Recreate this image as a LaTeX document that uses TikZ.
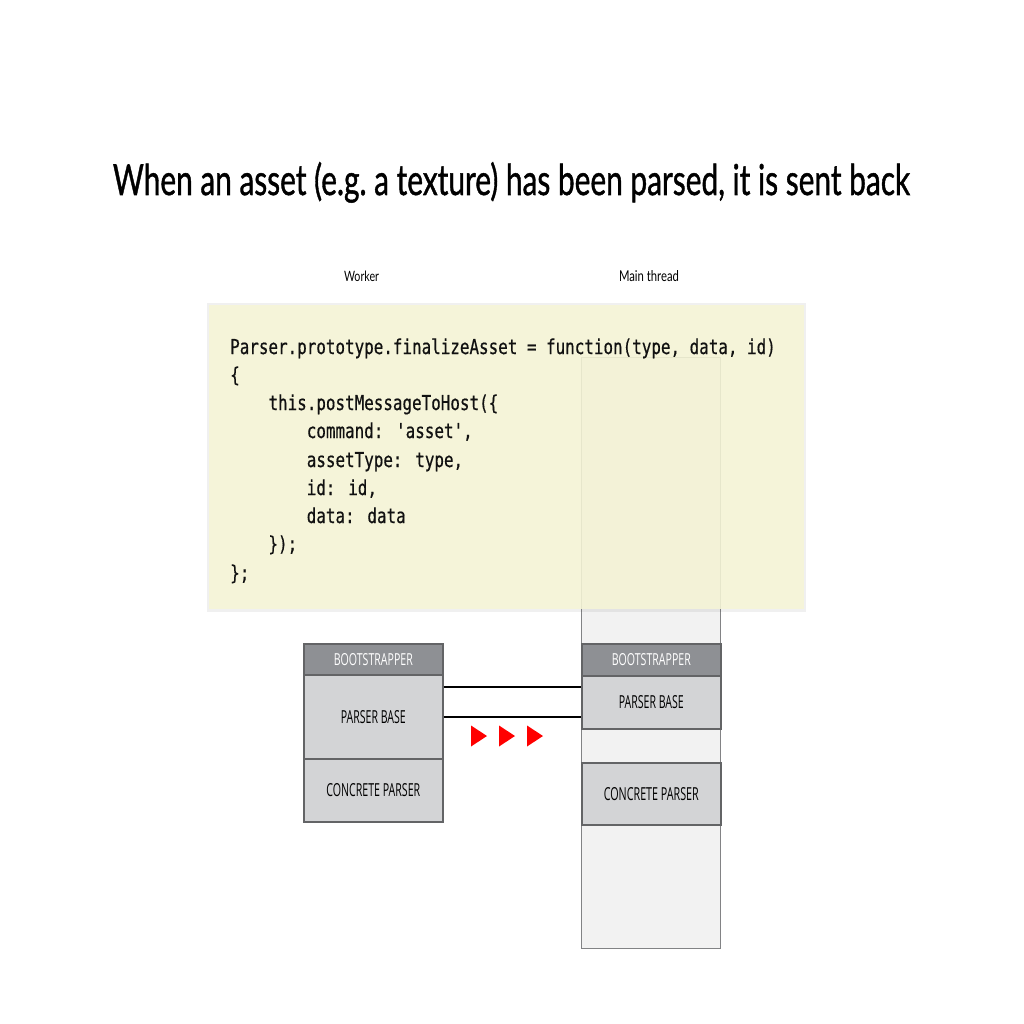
\documentclass[tikz,border=0pt]{standalone}
\usepackage{fontspec}
\usepackage{graphicx}
\setmainfont{Lato}
\newfontfamily\titlefont[FakeBold=1.2]{Lato}
\newfontfamily\labelfont{Open Sans}
\newfontfamily\codefont[FakeBold=0.6]{DejaVu Sans Mono}
\definecolor{codebg}{HTML}{F6F5D6}
\definecolor{colbg}{HTML}{F2F2F2}
\definecolor{boxline}{HTML}{636466}
\definecolor{bootfill}{HTML}{8E9094}
\definecolor{basefill}{HTML}{D3D4D6}
\definecolor{codetext}{HTML}{111111}
\tikzset{
  layer/.style={draw=boxline, line width=1.6pt, inner sep=0pt, anchor=north west},
  bootbox/.style={layer, fill=bootfill},
  basebox/.style={layer, fill=basefill},
  column/.style={draw=boxline!80, line width=1.3pt, fill=colbg, inner sep=0pt, anchor=north west},
  lbl/.style={inner sep=0pt, font=\labelfont},
  codeline/.style={inner sep=0pt, anchor=base west, text=codetext, font=\codefont\fontsize{15.9pt}{18pt}\selectfont},
  link/.style={line width=2.4pt, black},
}
\newcommand{\cl}[1]{\scalebox{1}[1.29]{#1}}
\begin{document}
\begin{tikzpicture}[x=1pt,y=-1pt]
\useasboundingbox (0,0) rectangle (1024,1024);
\fill[white] (0,0) rectangle (1024,1024);

% title
\node[anchor=base, inner sep=0pt, font=\titlefont] (title) at (511.5,195) {\frenchspacing\resizebox{797pt}{33pt}{When an asset (e.g.\ a texture) has been parsed, it is sent back}};
\node[anchor=base, inner sep=0pt] (worker) at (361.5,281) {\resizebox{35pt}{10.5pt}{Worker}};
\node[anchor=base, inner sep=0pt] (mainthread) at (649,281) {\resizebox{60pt}{11pt}{Main thread}};

% main thread column
\node[column, minimum width=139pt, minimum height=591pt] (col) at (581,357) {};

% code box (semi-transparent over column)
\fill[black, opacity=0.06] (207,303) rectangle (806,612);
\fill[codebg, fill opacity=0.88] (209,305) rectangle (804,609);
\node[codeline] (c1) at (230,354) {\cl{Parser.prototype.finalizeAsset = function(type, data, id)}};
\node[codeline] (c2) at (230,382) {\cl{\{}};
\node[codeline] (c3) at (268.3,410) {\cl{this.postMessageToHost(\{}};
\node[codeline] (c4) at (306.6,438) {\cl{command: 'asset',}};
\node[codeline] (c5) at (306.6,467) {\cl{assetType: type,}};
\node[codeline] (c6) at (306.6,495) {\cl{id: id,}};
\node[codeline] (c7) at (306.6,523) {\cl{data: data}};
\node[codeline] (c8) at (268.3,551) {\cl{\});}};
\node[codeline] (c9) at (230,580) {\cl{\};}};

% worker stack
\node[bootbox, minimum width=139pt, minimum height=31pt] (lboot) at (303,643) {};
\node[basebox, minimum width=139pt, minimum height=84pt] (lbase) at (303,674) {};
\node[basebox, minimum width=139pt, minimum height=63pt] (lconc) at (303,758) {};
\node[lbl, text=white] at (lboot.center) {\resizebox{79pt}{12pt}{BOOTSTRAPPER}};
\node[lbl] at (lbase.center) {\resizebox{65pt}{13pt}{PARSER BASE}};
\node[lbl] at (lconc.center) {\resizebox{94pt}{13pt}{CONCRETE PARSER}};

% main thread stack
\node[bootbox, minimum width=139pt, minimum height=32pt] (rboot) at (581,643) {};
\node[basebox, minimum width=139pt, minimum height=53pt] (rbase) at (581,675) {};
\node[basebox, minimum width=139pt, minimum height=62pt] (rconc) at (581,762) {};
\node[lbl, text=white] at (rboot.center) {\resizebox{79pt}{12pt}{BOOTSTRAPPER}};
\node[lbl] at (rbase.center) {\resizebox{65pt}{13pt}{PARSER BASE}};
\node[lbl] at (rconc.center) {\resizebox{95pt}{13pt}{CONCRETE PARSER}};

% connecting lines
\draw[link] ([yshift=30pt]lbase.east) -- ([yshift=30pt]lbase.east -| rbase.west);
\draw[link] (lbase.east) -- (lbase.east -| rbase.west);

% red triangles
\foreach \x in {471,499,527}{
  \fill[red] (\x,725.5) -- (\x+16,736) -- (\x,746.5) -- cycle;
}
\end{tikzpicture}
\end{document}
